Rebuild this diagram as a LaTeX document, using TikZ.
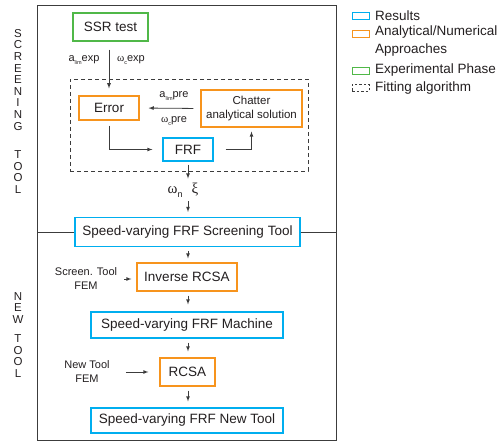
\documentclass[tikz,border=0pt]{standalone}
\usepackage{fontspec}
\setmainfont{Liberation Sans}
\newfontfamily\grkfont{Liberation Serif}
\usetikzlibrary{positioning,arrows}
\definecolor{resblue}{RGB}{0,174,239}
\definecolor{anaorange}{RGB}{247,148,29}
\definecolor{expgreen}{RGB}{80,184,72}
\definecolor{framegray}{RGB}{60,60,60}
\definecolor{txtgray}{RGB}{35,31,32}
\tikzstyle{every node} = [text=txtgray]
\tikzstyle{boxbase} = [line width=1.1pt, fill=white, inner sep=0pt, font=\fontsize{13.5}{15}\selectfont]
\tikzstyle{res} = [boxbase, draw=resblue]
\tikzstyle{ana} = [boxbase, draw=anaorange]
\tikzstyle{expe} = [boxbase, draw=expgreen]
\tikzstyle{arr} = [-latex, line width=0.8pt, draw=framegray]
\tikzstyle{lbl} = [inner sep=0pt, font=\fontsize{11}{12}\selectfont]
\tikzstyle{femlbl} = [inner sep=0pt, align=center, font=\fontsize{11}{14}\selectfont]
\tikzstyle{vert} = [inner sep=0pt, anchor=north, align=center, font=\fontsize{11.5}{11.6}\selectfont]
\tikzstyle{leg} = [inner sep=0pt, anchor=west, align=left, font=\fontsize{13.5}{18}\selectfont]
\tikzstyle{legbox} = [minimum width=17pt, minimum height=7pt, inner sep=0pt, line width=0.9pt]
\newcommand{\lowsub}[1]{\raisebox{-0.45ex}{\fontsize{5.5}{6}\selectfont #1}}

\begin{document}
\begin{tikzpicture}[x=1pt,y=-1pt]
\useasboundingbox (0,0) rectangle (503,441);

\draw[framegray, line width=1pt] (37,6) coordinate (fr_tl) rectangle (336,440) coordinate (fr_br);

\node[vert] (scrlbl) at (18,29) {S\\C\\R\\E\\E\\N\\I\\N\\G\\[17pt]T\\O\\O\\L};
\node[vert] (newlbl) at (18,292) {N\\E\\W\\[7.5pt]T\\O\\O\\L};

\node[draw=framegray, line width=0.9pt, dash pattern=on 4pt off 3pt, minimum width=238pt, minimum height=92pt] (fitbox) at (189,125) {};

\node[expe, minimum width=75pt, minimum height=28pt] (ssr) at (110.5,27) {SSR test};
\node[ana, minimum width=60pt, minimum height=24pt] (err) at (109,108) {Error};
\node[ana, minimum width=101pt, minimum height=37pt, align=center, font=\fontsize{11.5}{14}\selectfont] (chat) at (251.5,108.5) {Chatter\\analytical solution};
\node[res, minimum width=50pt, minimum height=23pt] (frf) at (188,149.5) {FRF};
\node[inner sep=0pt, font=\fontsize{15}{16}\selectfont] (omxi) at (183,190) {{\grkfont ω}\raisebox{-0.5ex}{\fontsize{9}{9}\selectfont n}\hspace{9pt}{\grkfont ξ}};
\node[res, minimum width=225pt, minimum height=29pt] (sfs) at (187.5,232) {Speed-varying FRF Screening Tool};
\node[ana, minimum width=100pt, minimum height=28pt] (irc) at (187,277) {Inverse RCSA};
\node[res, minimum width=192pt, minimum height=26pt] (sfm) at (187,325) {Speed-varying FRF Machine};
\node[ana, minimum width=55pt, minimum height=28pt] (rcsa) at (187.5,372) {RCSA};
\node[res, minimum width=192pt, minimum height=25pt] (sfn) at (187,420.5) {Speed-varying FRF New Tool};

\node[lbl] (aexp) at (84,60) {a\lowsub{lim}exp};
\node[lbl] (wexp) at (131,60) {{\grkfont ω}\lowsub{c}exp};
\node[lbl] (apre) at (174,96) {a\lowsub{lim}pre};
\node[lbl] (wpre) at (174,121) {{\grkfont ω}\lowsub{c}pre};
\node[femlbl] (scrfem) at (86,279) {Screen. Tool\\FEM};
\node[femlbl] (newfem) at (87,372) {New Tool\\FEM};

\draw[framegray, line width=1pt] (fr_tl |- sfs) -- (sfs.west);
\draw[framegray, line width=1pt] (sfs.east) -- (fr_br |- sfs);

\draw[arr, shorten <=8pt, shorten >=7pt] (ssr.south -| err.north) -- (err.north);
\draw[arr, shorten <=7pt, shorten >=9pt] (chat.west) -- (err.east);
\draw[arr, shorten <=5pt, shorten >=10pt] (err.south) |- (frf.west);
\draw[arr, shorten <=12pt, shorten >=4pt] (frf.east) -| (chat.south);
\draw[arr, shorten <=3pt, shorten >=4pt] (frf.south) -- (frf.south |- omxi.north);
\draw[arr, shorten <=4pt, shorten >=5pt] (frf.south |- omxi.south) -- (frf.south |- sfs.north);
\draw[arr, shorten <=4pt, shorten >=4pt] (sfs.south -| frf.south) -- (irc.north -| frf.south);
\draw[arr, shorten <=7pt, shorten >=5pt] (scrfem.east) -- (scrfem.east -| irc.west);
\draw[arr, shorten <=4pt, shorten >=7pt] (irc.south -| frf.south) -- (sfm.north -| frf.south);
\draw[arr, shorten <=4pt, shorten >=6pt] (sfm.south -| frf.south) -- (rcsa.north -| frf.south);
\draw[arr, shorten <=16pt, shorten >=11pt] (newfem.east) -- (rcsa.west);
\draw[arr, shorten <=4pt, shorten >=6pt] (rcsa.south -| frf.south) -- (sfn.north -| frf.south);

\node[legbox, draw=resblue] (lres) at (360.5,15.5) {};
\node[leg] (tres) at (375,15.5) {Results};
\node[legbox, draw=anaorange] (lana) at (360.5,33.5) {};
\node[leg] (tana) at (375,41) {Analytical/Numerical\\Approaches};
\node[legbox, draw=expgreen] (lexp) at (360.5,70.5) {};
\node[leg] (texp) at (375,70.5) {Experimental Phase};
\node[legbox, draw=framegray, dash pattern=on 2.5pt off 2pt] (lfit) at (360.5,88) {};
\node[leg] (tfit) at (375,88) {Fitting algorithm};
\end{tikzpicture}
\end{document}
